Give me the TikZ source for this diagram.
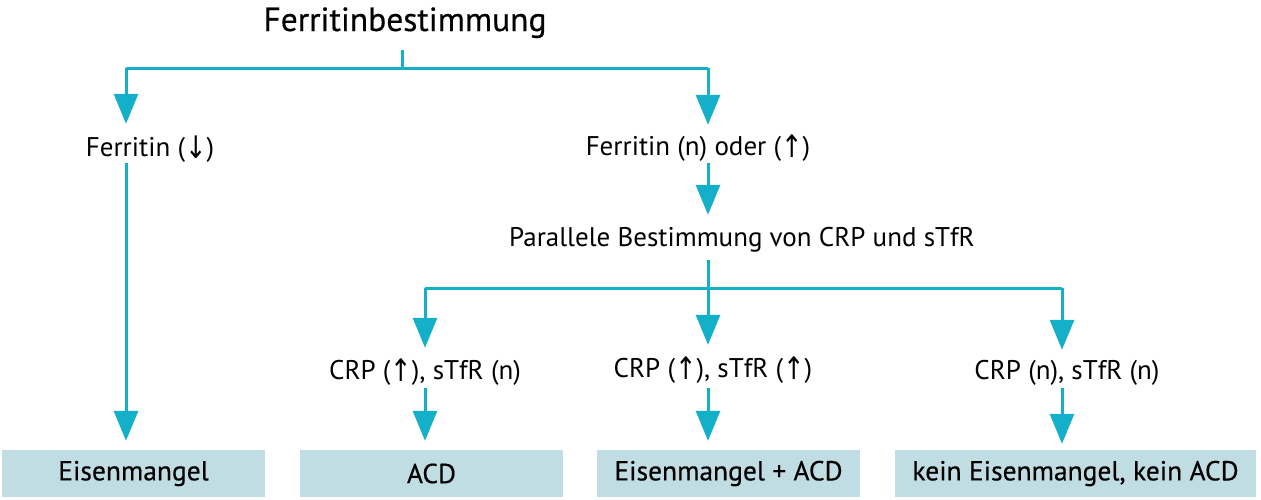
\documentclass[tikz,border=0pt]{standalone}
\usepackage{fontspec}
\setmainfont{PT Sans}
\newfontfamily\medfont[FakeBold=0.4]{PT Sans}
\newfontfamily\arrfont{DejaVu Sans}
\usetikzlibrary{arrows.meta}
\definecolor{lc}{HTML}{14AFC8}
\definecolor{bx}{HTML}{BFDDE3}
\newcommand\myup{\raisebox{-0.08em}{\scalebox{0.95}[1.15]{\arrfont ↑}}}
\newcommand\mydown{\raisebox{-0.08em}{\scalebox{0.95}[1.15]{\arrfont ↓}}}
\begin{document}
\begin{tikzpicture}[x=1pt,y=-1pt,
 conn/.style={draw=lc, line width=3pt},
 arr/.style={conn, -{Triangle[width=24pt,length=30pt]}},
 lbl/.style={font=\fontsize{27}{32}\selectfont, inner sep=0pt, text height=19pt, text depth=6pt, anchor=base},
 res/.style={fill=bx, minimum height=47pt, inner sep=0pt, font=\medfont\fontsize{27.5}{32}\selectfont},
 ttl/.style={font=\medfont\fontsize{33.5}{38}\selectfont, inner sep=0pt, anchor=base}]
\useasboundingbox (0,0) rectangle (1261,499);
\node[ttl] (title) at (405,31) {Ferritinbestimmung};
\coordinate (jt) at (402,68);
\coordinate (jl) at (126,68);
\coordinate (jr) at (708,68);
\coordinate (jbl) at (425,288);
\coordinate (jbr) at (1062,288);
\node[lbl] (f1) at (150,156) {Ferritin (\mydown)};
\node[lbl] (f2) at (698,155) {Ferritin (n) oder (\myup)};
\node[lbl] (p) at (742,246) {Parallele Bestimmung von CRP und sTfR};
\node[lbl] (c1) at (425,379) {CRP (\myup), sTfR (n)};
\node[lbl] (c2) at (713,377) {CRP (\myup), sTfR (\myup)};
\node[lbl] (c3) at (1067,379) {CRP (n), sTfR (n)};
\node[res, minimum width=263pt] (r1) at (133.5,473.5) {Eisenmangel};
\node[res, minimum width=263pt] (r2) at (431.5,473.5) {ACD};
\node[res, minimum width=263pt] (r3) at (728.5,473.5) {Eisenmangel + ACD};
\node[res, minimum width=361pt] (r4) at (1075.5,473.5) {kein Eisenmangel, kein ACD};
% connectors
\draw[conn, shorten <=12pt] (jt |- title.south) -- (jt);
\draw[conn] (jl) -- (jr);
\draw[arr, shorten >=13pt] (jl) -- (jl |- f1.north);
\draw[arr, shorten >=11pt] (jr) -- (jr |- f2.north);
\draw[arr, shorten <=1pt, shorten >=9pt] (jl |- f1.south) -- (jl |- r1.north);
\draw[arr, shorten <=2pt, shorten >=12pt] (jr |- f2.south) -- (jr |- p.north);
\draw[arr, shorten <=8pt, shorten >=13pt] (jr |- p.south) -- (jr |- c2.north);
\draw[conn] (jbl) -- (jbr);
\draw[arr, shorten >=12pt] (jbl) -- (jbl |- c1.north);
\draw[arr, shorten >=10pt] (jbr) -- (jbr |- c3.north);
\draw[arr, shorten <=3pt, shorten >=9pt] (jbl |- c1.south) -- (jbl |- r2.north);
\draw[arr, shorten <=5pt, shorten >=9pt] (jr |- c2.south) -- (jr |- r3.north);
\draw[arr, shorten <=3pt, shorten >=6pt] (jbr |- c3.south) -- (jbr |- r4.north);
\end{tikzpicture}
\end{document}
